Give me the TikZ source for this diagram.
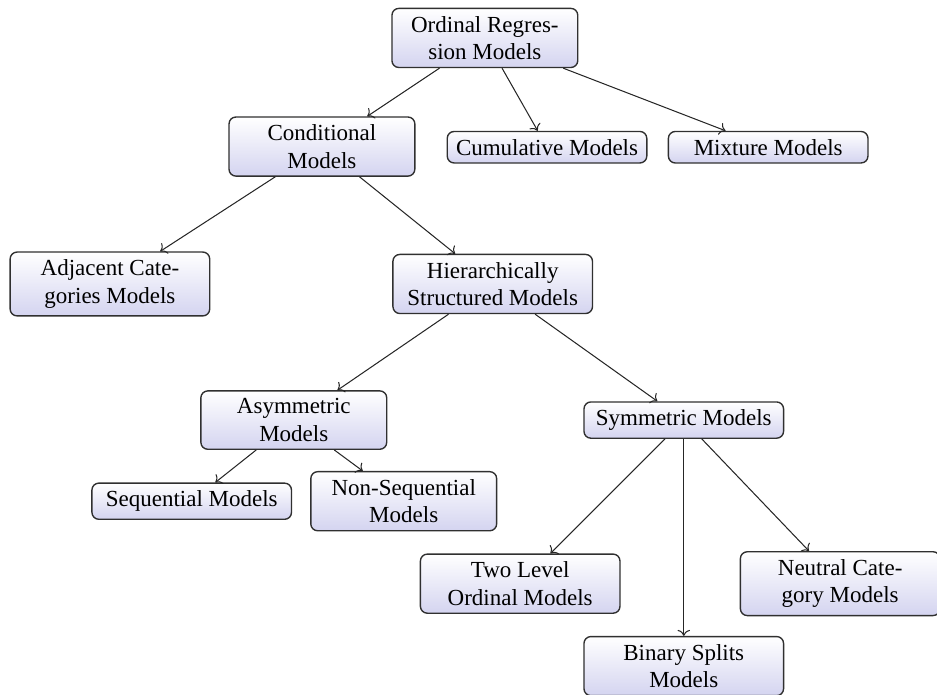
\documentclass[tikz,border=0pt]{standalone}
\usepackage{fontspec}
\setmainfont{Liberation Serif}
\usepackage{tikz}
\usetikzlibrary{arrows.meta,calc,positioning}
\definecolor{ordfill}{HTML}{D4D4F0}
\definecolor{ordline}{HTML}{303030}
\tikzset{
  ordbox/.style={draw=ordline, rounded corners=3pt, line width=0.6pt, top color=white, bottom color=ordfill, align=center, inner sep=3.33pt, minimum width=3.05cm},
  ordnarrow/.style={ordbox, minimum width=2.84cm},
  ordarrow/.style={->, line width=0.45pt, draw=black!85}
}
\begin{document}
\begin{tikzpicture}[x=1cm,y=1cm]
  \useasboundingbox (0,0) rectangle (14.32,10.62);

  % top level
  \node[ordnarrow] (root) at (7.41,10.04) {Ordinal Regres-\\sion Models};

  \node[ordnarrow] (cond) at (4.92,8.38) {Conditional\\Models};
  \node[ordbox] (cumul) at (8.36,8.37) {Cumulative Models};
  \node[ordbox] (mixt) at (11.74,8.37) {Mixture Models};

  % conditional branch
  \node[ordbox] (adjac) at (1.68,6.28) {Adjacent Cate-\\gories Models};
  \node[ordbox] (hier) at (7.53,6.28) {Hierarchically\\Structured Models};

  % hierarchically structured branch
  \node[ordnarrow] (asym) at (4.49,4.20) {Asymmetric\\Models};
  \node[ordbox] (sym) at (10.45,4.20) {Symmetric Models};

  \node[ordbox] (seq) at (2.93,2.96) {Sequential Models};
  \node[ordnarrow] (nonseq) at (6.17,2.96) {Non-Sequential\\Models};

  \node[ordbox] (twolevel) at (7.95,1.70) {Two Level\\Ordinal Models};
  \node[ordbox] (neutral) at (12.84,1.70) {Neutral Cate-\\gory Models};
  \node[ordbox] (binary) at (10.45,0.44) {Binary Splits\\Models};

  % arrows
  \draw[ordarrow] (root) -- (cond);
  \draw[ordarrow] (root) -- (cumul);
  \draw[ordarrow] (root) -- (mixt);
  \draw[ordarrow] (cond) -- (adjac);
  \draw[ordarrow] (cond) -- (hier);
  \draw[ordarrow] (hier) -- (asym);
  \draw[ordarrow] (hier) -- (sym);
  \draw[ordarrow] (asym) -- (seq);
  \draw[ordarrow] (asym) -- (nonseq);
  \draw[ordarrow] (sym) -- (twolevel);
  \draw[ordarrow] (sym) -- (binary);
  \draw[ordarrow] (sym) -- (neutral);

\end{tikzpicture}
\end{document}
